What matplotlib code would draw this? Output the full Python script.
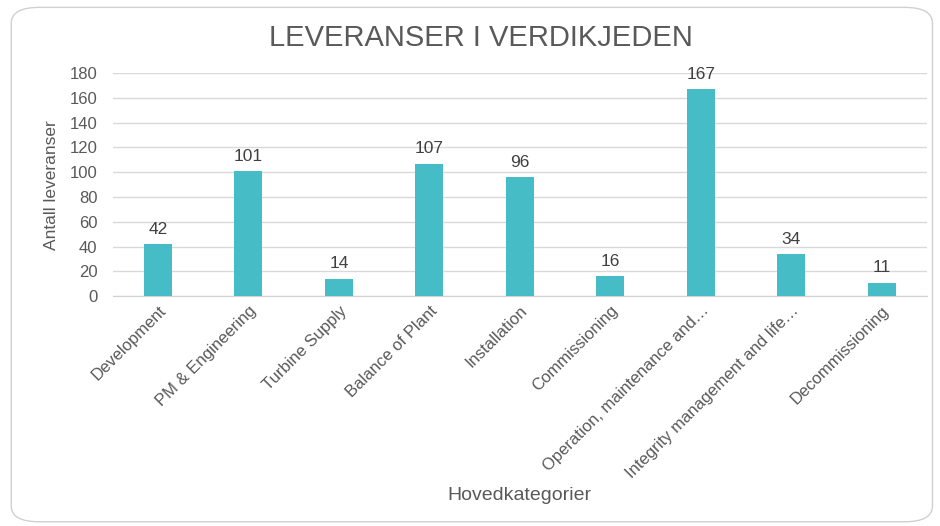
#---------------------------------------------------------------------------------
# INFO:
# Bar chart of deliveries per main category in the value chain.
# Numbers are typed in from the survey summary.
#---------------------------------------------------------------------------------
import matplotlib.pyplot as plt
from matplotlib.patches import FancyBboxPatch

categories = ["Development", "PM & Engineering", "Turbine Supply", "Balance of Plant",
              "Installation", "Commissioning", "Operation, maintenance and\u2026",
              "Integrity management and life\u2026", "Decommissioning"]
counts = [42, 101, 14, 107, 96, 16, 167, 34, 11]
y_ticks = [0, 20, 40, 60, 80, 100, 120, 140, 160, 180]


def plot(categories, counts):
    plt.rcParams["font.family"] = ["Liberation Sans", "DejaVu Sans"]
    grey = "#595959"

    fig = plt.figure(figsize=(9.4, 5.26), dpi=100)
    # Rounded frame around the whole chart
    fig.add_artist(FancyBboxPatch((0.012, 0.008), 0.98, 0.978, boxstyle="round,pad=0,rounding_size=0.03",
                                  transform=fig.transFigure, facecolor="white", edgecolor="#D0D0D0",
                                  linewidth=1.0, zorder=-1))

    ax = plt.axes([0.120, 0.437, 0.866, 0.424])
    ax.set_facecolor("none")
    x = range(len(categories))
    plt.bar(x, counts, width=0.31, color="#45BCC6", zorder=3)
    for i, c in zip(x, counts):
        plt.text(i, c + 6, str(c), ha="center", va="bottom", fontsize=12.5, color="#404040")

    plt.ylim(0, 180)
    plt.xlim(-0.5, len(categories) - 0.5)
    plt.yticks(y_ticks, fontsize=12, color=grey)
    plt.xticks(x, categories, rotation=45, ha="right", rotation_mode="anchor", fontsize=12, color=grey)
    plt.tick_params(axis="both", length=0)
    plt.tick_params(axis="y", pad=11)
    plt.tick_params(axis="x", pad=5)
    plt.grid(axis="y", color="#D9D9D9", linewidth=1.0, zorder=0)
    for side in ["top", "right", "left"]:
        ax.spines[side].set_visible(False)
    ax.spines["bottom"].set_color("#D0D0D0")

    plt.ylabel("Antall leveranser", fontsize=12.5, color=grey, labelpad=8)
    plt.xlabel("Hovedkategorier", fontsize=14, color=grey, labelpad=4)
    plt.suptitle("LEVERANSER I VERDIKJEDEN", x=0.512, y=0.955, fontsize=21, color=grey)
    plt.savefig("out.png", dpi=100)


def main():
    plot(categories, counts)


if __name__ == '__main__':
    main()
